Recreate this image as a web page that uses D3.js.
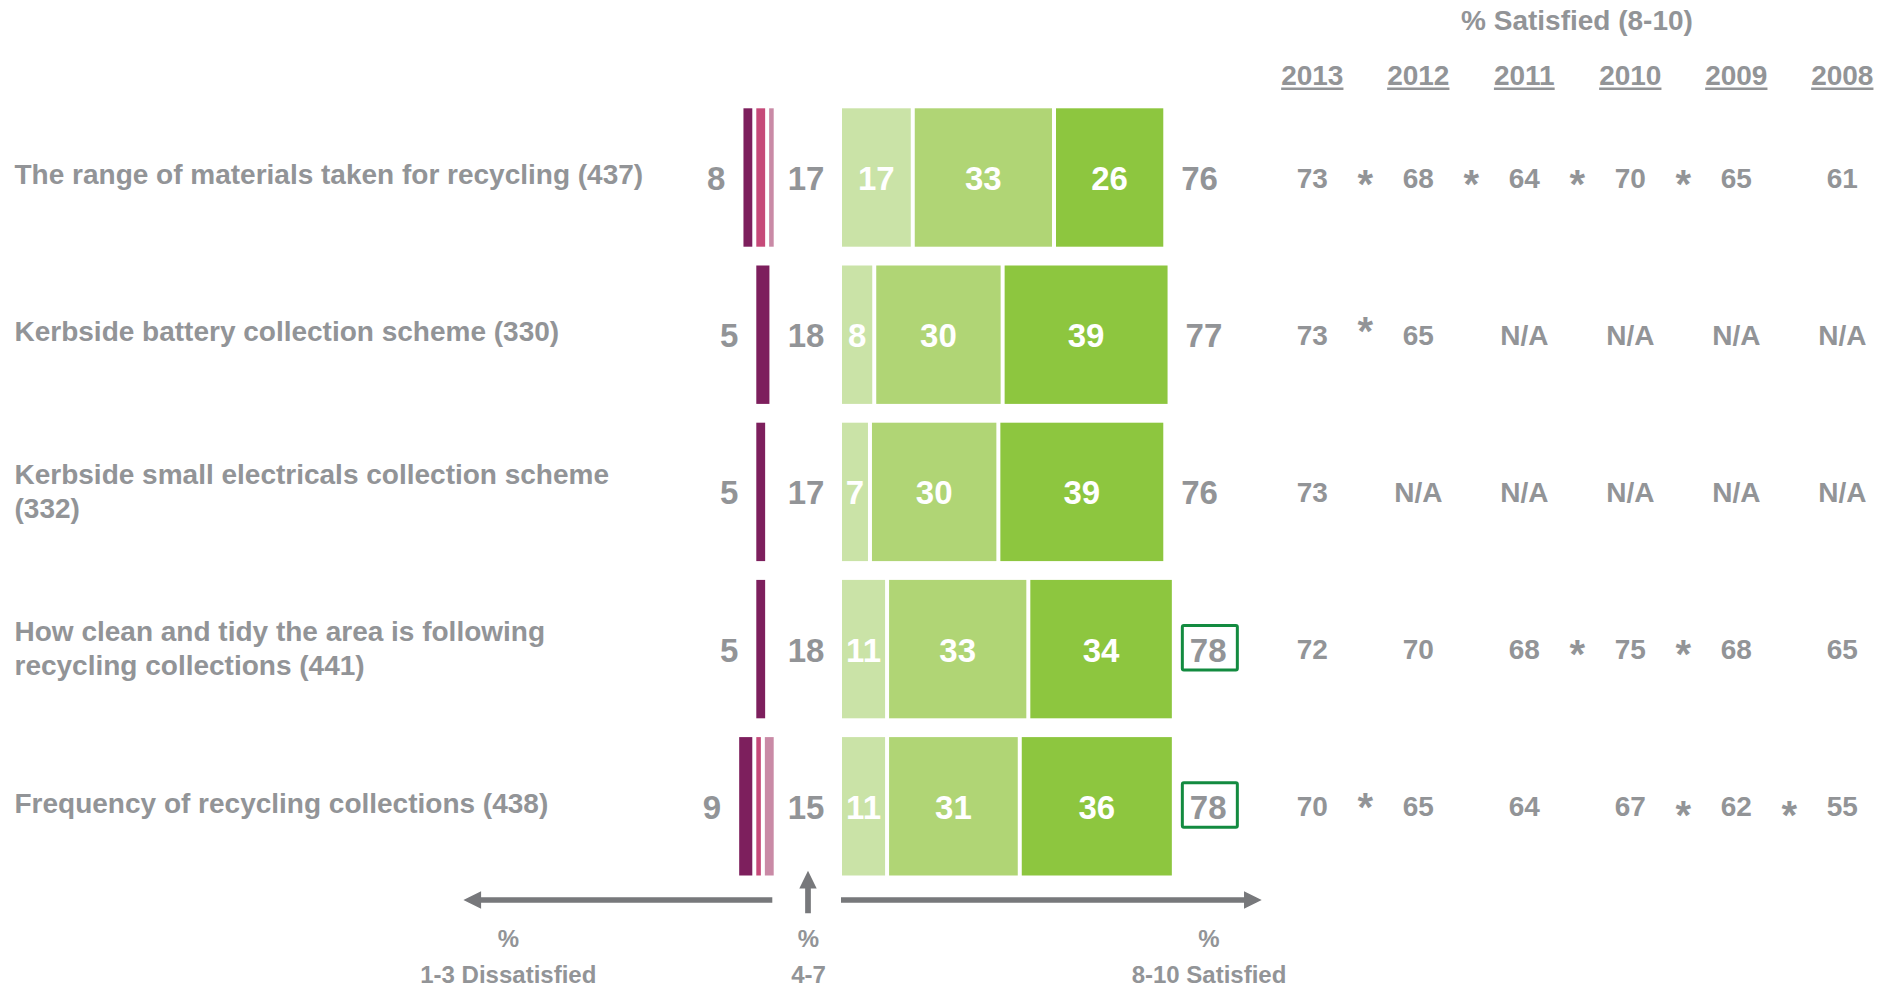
<!DOCTYPE html>
<html>
<head>
<meta charset="utf-8">
<script src="https://cdn.jsdelivr.net/npm/d3@7"></script>
<style>
  html, body { margin: 0; padding: 0; background: #ffffff; }
  svg { display: block; }
  text { font-family: "Liberation Sans", Arial, Helvetica, sans-serif; font-weight: bold; }
</style>
</head>
<body>
<svg id="chart" width="1892" height="986"></svg>
<script>
// ---- Data ----
const categories = [
  "The range of materials taken for recycling (437)",
  "Kerbside battery collection scheme (330)",
  "Kerbside small electricals collection scheme\n(332)",
  "How clean and tidy the area is following\nrecycling collections (441)",
  "Frequency of recycling collections (438)"
];

// Dissatisfied (scores 1, 2, 3) and their totals
const score1 = [3, 4, 3, 3, 4];
const score2 = [3, 0, 1, 1, 2];
const score3 = [2, 1, 1, 1, 3];
const dissatisfiedTotal = [8, 5, 5, 5, 9];

// Neutral (scores 4-7)
const neutral = [17, 18, 17, 18, 15];

// Satisfied (scores 8, 9, 10) and their totals
const score8 = [17, 8, 7, 11, 11];
const score9 = [33, 30, 30, 33, 31];
const score10 = [26, 39, 39, 34, 36];
const satisfiedTotal = [76, 77, 76, 78, 78];
const highlighted = [false, false, false, true, true];

// % satisfied (8-10) by year
const years = ["2013", "2012", "2011", "2010", "2009", "2008"];
const trend = [
  [73, 68, 64, 70, 65, 61],
  [73, 65, "N/A", "N/A", "N/A", "N/A"],
  [73, "N/A", "N/A", "N/A", "N/A", "N/A"],
  [72, 70, 68, 75, 68, 65],
  [70, 65, 64, 67, 62, 55]
];
// significant change between year i and year i+1
const significant = [
  [0, 1, 2, 3],
  [0],
  [],
  [2, 3],
  [0, 3, 4]
];

const axisLabels = [
  { pct: "%", text: "1-3 Dissatisfied" },
  { pct: "%", text: "4-7" },
  { pct: "%", text: "8-10 Satisfied" }
];

// ---- Layout ----
const GRAY = "#929497";
const ARROW = "#77787b";
const disColors = ["#7d1f5d", "#c64a79", "#c98aa6"];   // score 1, 2, 3
const satColors = ["#cae3a7", "#b0d575", "#8dc63f"];   // score 8, 9, 10
const GAP = 4;
const BIG = 33, MID = 28, SMALL = 24;
// small vertical nudges for some significance markers (row-gap)
const markNudge = { "1-0": -10, "3-2": -2, "3-3": -2, "4-0": -6, "4-3": 2, "4-4": 2 };

const svg = d3.select("#chart");

const rows = d3.range(categories.length);
const y = d3.scaleBand()
  .domain(rows)
  .range([98.9, 884.9])
  .paddingInner(0.1196)
  .paddingOuter(0.0598);
const bw = y.bandwidth();
const cy = i => y(i) + bw / 2;

const xSat = d3.scaleLinear().domain([0, 100]).range([838, 1266]);
const xDis = d3.scaleLinear().domain([0, 100]).range([773.7, 345.7]);
const neutralX = 806;

const xYear = d3.scalePoint().domain(years).range([1312.3, 1842.3]);

// ---- Category labels ----
const catG = svg.append("g");
rows.forEach(i => {
  const lines = categories[i].split("\n");
  const base = lines.length === 1 ? cy(i) + 6.5 : cy(i) - 8;
  const t = catG.append("text")
    .attr("x", 14.5)
    .attr("font-size", MID)
    .attr("fill", GRAY);
  lines.forEach((ln, k) => {
    t.append("tspan").attr("x", 14.5).attr("y", base + k * 34).text(ln);
  });
});

// ---- Dissatisfied stacked bars (grow leftwards; score 3 nearest the centre) ----
const disG = svg.append("g");
rows.forEach(i => {
  const parts = [score3[i], score2[i], score1[i]];
  const cols = [disColors[2], disColors[1], disColors[0]];
  let cum = 0;
  parts.forEach((v, k) => {
    const x0 = xDis(cum), x1 = xDis(cum + v);
    cum += v;
    const w = Math.max(0, x0 - x1 - GAP);
    if (w > 0.5) {
      disG.append("rect")
        .attr("x", x1 + GAP).attr("y", y(i))
        .attr("width", w).attr("height", bw)
        .attr("fill", cols[k]);
    }
  });
  disG.append("text")
    .attr("x", xDis(dissatisfiedTotal[i]) - 14)
    .attr("y", cy(i) + 12.5)
    .attr("text-anchor", "end")
    .attr("font-size", BIG)
    .attr("fill", GRAY)
    .text(dissatisfiedTotal[i]);
});

// ---- Neutral values ----
svg.append("g").selectAll("text")
  .data(rows)
  .join("text")
  .attr("x", neutralX)
  .attr("y", i => cy(i) + 12.5)
  .attr("text-anchor", "middle")
  .attr("font-size", BIG)
  .attr("fill", GRAY)
  .text(i => neutral[i]);

// ---- Satisfied stacked bars ----
const satG = svg.append("g");
rows.forEach(i => {
  const parts = [score8[i], score9[i], score10[i]];
  let cum = 0;
  parts.forEach((v, k) => {
    const x0 = xSat(cum), x1 = xSat(cum + v);
    cum += v;
    satG.append("rect")
      .attr("x", x0 + GAP).attr("y", y(i))
      .attr("width", Math.max(0, x1 - x0 - GAP)).attr("height", bw)
      .attr("fill", satColors[k]);
    satG.append("text")
      .attr("x", (x0 + GAP + x1) / 2)
      .attr("y", cy(i) + 12.5)
      .attr("text-anchor", "middle")
      .attr("font-size", BIG)
      .attr("fill", "#ffffff")
      .text(v);
  });
  const tx = xSat(satisfiedTotal[i]) + 18;
  if (highlighted[i]) {
    satG.append("rect")
      .attr("x", tx - 7.5).attr("y", cy(i) - 23.5)
      .attr("width", 55).attr("height", 44.5)
      .attr("rx", 1.5)
      .attr("fill", "none")
      .attr("stroke", "#138b40")
      .attr("stroke-width", 3);
  }
  satG.append("text")
    .attr("x", tx)
    .attr("y", cy(i) + 12.5)
    .attr("font-size", BIG)
    .attr("fill", GRAY)
    .text(satisfiedTotal[i]);
});

// ---- Year-on-year table ----
const tabG = svg.append("g");
tabG.append("text")
  .attr("x", 1577).attr("y", 30)
  .attr("text-anchor", "middle")
  .attr("font-size", MID)
  .attr("fill", GRAY)
  .text("% Satisfied (8-10)");

years.forEach(yr => {
  const t = tabG.append("text")
    .attr("x", xYear(yr)).attr("y", 85)
    .attr("text-anchor", "middle")
    .attr("font-size", MID)
    .attr("fill", GRAY)
    .text(yr);
  const w = t.node().getComputedTextLength();
  tabG.append("line")
    .attr("x1", xYear(yr) - w / 2).attr("x2", xYear(yr) + w / 2)
    .attr("y1", 88.8).attr("y2", 88.8)
    .attr("stroke", GRAY).attr("stroke-width", 2.6);
});

rows.forEach(i => {
  trend[i].forEach((v, j) => {
    tabG.append("text")
      .attr("x", xYear(years[j]))
      .attr("y", cy(i) + 10)
      .attr("text-anchor", "middle")
      .attr("font-size", MID)
      .attr("fill", GRAY)
      .text(v);
  });
  significant[i].forEach(j => {
    const mx = (xYear(years[j]) + xYear(years[j + 1])) / 2;
    const nudge = markNudge[i + "-" + j] || 0;
    tabG.append("text")
      .attr("x", mx)
      .attr("y", cy(i) + nudge + 0.58 * 40 - 2.5)
      .attr("text-anchor", "middle")
      .attr("font-size", 40)
      .attr("fill", GRAY)
      .text("*");
  });
});

// ---- Direction arrows ----
const arrG = svg.append("g").attr("fill", ARROW);
const ay = 900, th = 5.7, hl = 17.7, hw = 8.7;
// left: dissatisfied
const lx0 = xDis(0) - 1.4, lx1 = xDis(72.5);
arrG.append("path").attr("d",
  `M${lx0},${ay - th / 2} L${lx1 + hl},${ay - th / 2} L${lx1 + hl},${ay - hw} L${lx1},${ay} ` +
  `L${lx1 + hl},${ay + hw} L${lx1 + hl},${ay + th / 2} L${lx0},${ay + th / 2} Z`);
// right: satisfied
const rx0 = xSat(0) + 3, rx1 = xSat(99);
arrG.append("path").attr("d",
  `M${rx0},${ay - th / 2} L${rx1 - hl},${ay - th / 2} L${rx1 - hl},${ay - hw} L${rx1},${ay} ` +
  `L${rx1 - hl},${ay + hw} L${rx1 - hl},${ay + th / 2} L${rx0},${ay + th / 2} Z`);
// up: neutral
const ux = 808, uTip = 870.7, uBase = 913.3;
arrG.append("path").attr("d",
  `M${ux - th / 2},${uBase} L${ux - th / 2},${uTip + hl} L${ux - hw},${uTip + hl} L${ux},${uTip} ` +
  `L${ux + hw},${uTip + hl} L${ux + th / 2},${uTip + hl} L${ux + th / 2},${uBase} Z`);

// ---- Axis captions ----
const capX = [508.3, 808.5, 1209];
const capG = svg.append("g");
axisLabels.forEach((d, k) => {
  capG.append("text")
    .attr("x", capX[k]).attr("y", 946.5)
    .attr("text-anchor", "middle")
    .attr("font-size", SMALL)
    .attr("fill", GRAY)
    .text(d.pct);
  capG.append("text")
    .attr("x", capX[k]).attr("y", 982.5)
    .attr("text-anchor", "middle")
    .attr("font-size", SMALL)
    .attr("fill", GRAY)
    .text(d.text);
});
</script>
</body>
</html>
